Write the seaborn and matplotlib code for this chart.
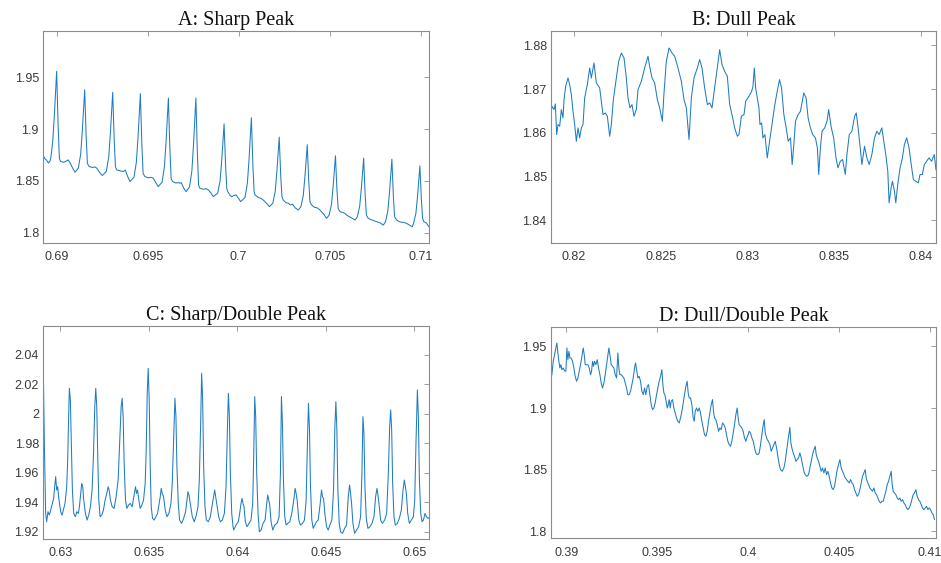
import matplotlib
matplotlib.use("Agg")
import matplotlib.pyplot as plt
import seaborn as sns
import pandas as pd

# ---------------------------------------------------------------------------
# Recorded signal segments: (time, value) samples for each of the four traces
# ---------------------------------------------------------------------------
sharp_peak = [
    (0.68925, 1.8752), (0.68935, 1.8715), (0.68945, 1.8700), (0.68955, 1.8672), (0.68963, 1.8690),
    (0.68968, 1.8725), (0.68978, 1.8873), (0.68987, 1.9119), (0.68995, 1.9400), (0.69000, 1.9558),
    (0.69004, 1.9297), (0.69008, 1.9035), (0.69015, 1.8717), (0.69022, 1.8687), (0.69040, 1.8680),
    (0.69055, 1.8695), (0.69064, 1.8703), (0.69075, 1.8670), (0.69089, 1.8620), (0.69101, 1.8584),
    (0.69119, 1.8624), (0.69132, 1.8759), (0.69141, 1.8982), (0.69149, 1.9237), (0.69154, 1.9380),
    (0.69158, 1.9158), (0.69162, 1.8935), (0.69169, 1.8669), (0.69179, 1.8639), (0.69197, 1.8630),
    (0.69212, 1.8635), (0.69220, 1.8623), (0.69237, 1.8580), (0.69251, 1.8552),
    (0.69273, 1.8592), (0.69286, 1.8729), (0.69295, 1.8954), (0.69303, 1.9210), (0.69308, 1.9355),
    (0.69312, 1.9130), (0.69316, 1.8906), (0.69323, 1.8636), (0.69330, 1.8606), (0.69348, 1.8598),
    (0.69366, 1.8590), (0.69377, 1.8606), (0.69391, 1.8540), (0.69403, 1.8494),
    (0.69425, 1.8536), (0.69438, 1.8681), (0.69447, 1.8918), (0.69455, 1.9189), (0.69460, 1.9342),
    (0.69464, 1.9102), (0.69468, 1.8862), (0.69475, 1.8572), (0.69485, 1.8542), (0.69504, 1.8530),
    (0.69519, 1.8535), (0.69531, 1.8526), (0.69546, 1.8480), (0.69558, 1.8445),
    (0.69579, 1.8488), (0.69592, 1.8633), (0.69601, 1.8873), (0.69609, 1.9146), (0.69614, 1.9300),
    (0.69618, 1.9058), (0.69622, 1.8816), (0.69629, 1.8524), (0.69637, 1.8494), (0.69655, 1.8480),
    (0.69670, 1.8484), (0.69677, 1.8477), (0.69685, 1.8484), (0.69698, 1.8430), (0.69711, 1.8397),
    (0.69730, 1.8442), (0.69743, 1.8596), (0.69752, 1.8849), (0.69760, 1.9137), (0.69765, 1.9300),
    (0.69769, 1.9039), (0.69773, 1.8777), (0.69780, 1.8459), (0.69787, 1.8429), (0.69807, 1.8420),
    (0.69822, 1.8425), (0.69834, 1.8413), (0.69849, 1.8380), (0.69861, 1.8348),
    (0.69885, 1.8383), (0.69898, 1.8502), (0.69907, 1.8699), (0.69915, 1.8924), (0.69920, 1.9050),
    (0.69924, 1.8854), (0.69928, 1.8658), (0.69935, 1.8427), (0.69940, 1.8397), (0.69953, 1.8360),
    (0.69962, 1.8348), (0.69973, 1.8360), (0.69986, 1.8365), (0.70000, 1.8330), (0.70011, 1.8300),
    (0.70035, 1.8340), (0.70048, 1.8478), (0.70057, 1.8705), (0.70065, 1.8964), (0.70070, 1.9110),
    (0.70074, 1.8887), (0.70078, 1.8663), (0.70085, 1.8395), (0.70090, 1.8365), (0.70109, 1.8340),
    (0.70124, 1.8330), (0.70135, 1.8316), (0.70155, 1.8280), (0.70169, 1.8252),
    (0.70188, 1.8286), (0.70201, 1.8400), (0.70210, 1.8588), (0.70218, 1.8802), (0.70223, 1.8923),
    (0.70227, 1.8741), (0.70231, 1.8559), (0.70238, 1.8346), (0.70245, 1.8316), (0.70260, 1.8290),
    (0.70273, 1.8285), (0.70283, 1.8268), (0.70296, 1.8275), (0.70311, 1.8240), (0.70328, 1.8219),
    (0.70342, 1.8251), (0.70355, 1.8358), (0.70364, 1.8535), (0.70372, 1.8736), (0.70377, 1.8850),
    (0.70381, 1.8675), (0.70385, 1.8501), (0.70392, 1.8298), (0.70401, 1.8268), (0.70417, 1.8245),
    (0.70432, 1.8240), (0.70447, 1.8219), (0.70467, 1.8180), (0.70483, 1.8139),
    (0.70497, 1.8169), (0.70510, 1.8272), (0.70519, 1.8441), (0.70527, 1.8633), (0.70532, 1.8742),
    (0.70536, 1.8580), (0.70540, 1.8419), (0.70547, 1.8233), (0.70557, 1.8203), (0.70573, 1.8195),
    (0.70585, 1.8185), (0.70593, 1.8171), (0.70613, 1.8150), (0.70640, 1.8123),
    (0.70652, 1.8153), (0.70665, 1.8254), (0.70674, 1.8422), (0.70682, 1.8613), (0.70687, 1.8720),
    (0.70691, 1.8546), (0.70695, 1.8371), (0.70702, 1.8169), (0.70712, 1.8139), (0.70729, 1.8125),
    (0.70745, 1.8115), (0.70759, 1.8106), (0.70777, 1.8095), (0.70795, 1.8074),
    (0.70807, 1.8106), (0.70820, 1.8214), (0.70829, 1.8392), (0.70837, 1.8596), (0.70842, 1.8710),
    (0.70846, 1.8534), (0.70850, 1.8358), (0.70857, 1.8153), (0.70868, 1.8123), (0.70885, 1.8105),
    (0.70906, 1.8100), (0.70923, 1.8090), (0.70938, 1.8075), (0.70954, 1.8058),
    (0.70961, 1.8088), (0.70974, 1.8187), (0.70983, 1.8352), (0.70991, 1.8539), (0.70996, 1.8645),
    (0.71000, 1.8483), (0.71004, 1.8322), (0.71011, 1.8136), (0.71018, 1.8106), (0.71031, 1.8095),
    (0.71045, 1.8058),
]

dull_peak = [
    (0.818654, 1.86416), (0.818731, 1.86607), (0.818846, 1.86530), (0.818923, 1.86660),
    (0.819000, 1.85959), (0.819077, 1.86188), (0.819173, 1.86150), (0.819269, 1.86530),
    (0.819365, 1.86340), (0.819423, 1.86759), (0.819519, 1.87063), (0.819654, 1.87254),
    (0.819750, 1.87102), (0.819846, 1.86873), (0.819942, 1.86492), (0.820038, 1.86188),
    (0.820135, 1.85807), (0.820231, 1.86112), (0.820327, 1.85883), (0.820423, 1.86112),
    (0.820519, 1.86188), (0.820615, 1.86797), (0.820769, 1.87102), (0.820904, 1.87482),
    (0.821000, 1.87254), (0.821154, 1.87596), (0.821288, 1.87140), (0.821481, 1.87025),
    (0.821673, 1.86416), (0.821808, 1.86454), (0.821923, 1.86378), (0.822058, 1.85921),
    (0.822154, 1.86188), (0.822269, 1.86759), (0.822442, 1.87254), (0.822577, 1.87635),
    (0.822731, 1.87825), (0.822885, 1.87711), (0.823019, 1.87254), (0.823115, 1.86797),
    (0.823231, 1.86569), (0.823346, 1.86645), (0.823462, 1.86378), (0.823596, 1.86530),
    (0.823692, 1.86987), (0.823885, 1.87178), (0.824077, 1.87482), (0.824269, 1.87749),
    (0.824365, 1.87520), (0.824500, 1.87254), (0.824654, 1.87140), (0.824808, 1.86759),
    (0.824942, 1.86569), (0.825096, 1.86264), (0.825192, 1.86911), (0.825327, 1.87635),
    (0.825481, 1.87939), (0.825654, 1.87825), (0.825808, 1.87749), (0.826000, 1.87482),
    (0.826192, 1.87178), (0.826346, 1.86759), (0.826481, 1.86569), (0.826635, 1.85845),
    (0.826769, 1.86797), (0.826923, 1.87254), (0.827115, 1.87482), (0.827250, 1.87673),
    (0.827385, 1.87482), (0.827538, 1.87025), (0.827692, 1.86645), (0.827827, 1.86683),
    (0.827962, 1.86569), (0.828115, 1.87025), (0.828269, 1.87482), (0.828404, 1.87901),
    (0.828538, 1.87558), (0.828692, 1.87406), (0.828846, 1.87292), (0.828981, 1.86645),
    (0.829115, 1.86416), (0.829269, 1.86112), (0.829423, 1.85921), (0.829519, 1.85959),
    (0.829654, 1.86378), (0.829808, 1.86416), (0.829904, 1.86721), (0.830096, 1.86835),
    (0.830249, 1.86949), (0.830326, 1.87063), (0.830402, 1.87482), (0.830479, 1.87025),
    (0.830575, 1.86797), (0.830670, 1.86569), (0.830728, 1.86188), (0.830824, 1.86226),
    (0.830900, 1.85883), (0.831015, 1.85959), (0.831149, 1.85426), (0.831284, 1.85807),
    (0.831437, 1.86226), (0.831571, 1.86607), (0.831724, 1.86949), (0.831858, 1.87216),
    (0.831973, 1.87025), (0.832107, 1.86416), (0.832241, 1.86112), (0.832356, 1.85807),
    (0.832490, 1.85883), (0.832586, 1.85274), (0.832682, 1.85731), (0.832778, 1.86264),
    (0.832931, 1.86416), (0.833065, 1.86492), (0.833257, 1.86911), (0.833391, 1.86797),
    (0.833506, 1.86340), (0.833640, 1.86112), (0.833774, 1.85959), (0.833927, 1.85883),
    (0.834042, 1.85655), (0.834119, 1.85046), (0.834215, 1.85655), (0.834310, 1.86035),
    (0.834464, 1.86112), (0.834598, 1.86264), (0.834693, 1.86530), (0.834847, 1.86112),
    (0.834981, 1.85883), (0.835115, 1.85426), (0.835230, 1.85198), (0.835364, 1.85350),
    (0.835498, 1.85388), (0.835651, 1.85046), (0.835747, 1.85502), (0.835881, 1.85959),
    (0.836034, 1.86035), (0.836188, 1.86378), (0.836284, 1.86454), (0.836379, 1.86150),
    (0.836513, 1.85655), (0.836609, 1.85274), (0.836762, 1.85693), (0.836897, 1.85426),
    (0.837031, 1.85274), (0.837184, 1.85502), (0.837337, 1.85883), (0.837471, 1.86035),
    (0.837605, 1.85959), (0.837759, 1.86112), (0.837874, 1.85807), (0.837989, 1.85502),
    (0.838103, 1.85122), (0.838180, 1.84398), (0.838295, 1.84741), (0.838372, 1.84893),
    (0.838487, 1.84665), (0.838563, 1.84398), (0.838678, 1.84817), (0.838812, 1.85198),
    (0.838946, 1.85426), (0.839061, 1.85731), (0.839195, 1.85883), (0.839330, 1.85655),
    (0.839483, 1.85198), (0.839579, 1.84931), (0.839713, 1.84893), (0.839866, 1.84855),
    (0.839962, 1.85046), (0.840096, 1.85046), (0.840211, 1.85274), (0.840345, 1.85350),
    (0.840479, 1.85426), (0.840632, 1.85350), (0.840785, 1.85502), (0.840881, 1.85160),
    (0.840958, 1.85122),
]

sharp_double_peak = [
    (0.629037, 2.03094), (0.629094, 1.98224), (0.629169, 1.93242), (0.629226, 1.92675),
    (0.629302, 1.93355), (0.629377, 1.93129), (0.629453, 1.93468), (0.629547, 1.93921),
    (0.629622, 1.94261), (0.629679, 1.95054), (0.629736, 1.95734), (0.629792, 1.94827),
    (0.629849, 1.95054), (0.629924, 1.94148), (0.630019, 1.93355), (0.630094, 1.93129),
    (0.630170, 1.93468), (0.630264, 1.93921), (0.630359, 1.95054), (0.630415, 1.96866),
    (0.630472, 2.00037), (0.630510, 2.01735), (0.630566, 2.00943), (0.630623, 1.97772),
    (0.630680, 1.94827), (0.630755, 1.93242), (0.630849, 1.93015), (0.630925, 1.93355),
    (0.631019, 1.93242), (0.631076, 1.93695), (0.631151, 1.94601), (0.631208, 1.95281),
    (0.631265, 1.95054), (0.631321, 1.94148), (0.631416, 1.93242), (0.631510, 1.92789),
    (0.631604, 1.93129), (0.631699, 1.93695), (0.631793, 1.94827), (0.631869, 1.97092),
    (0.631944, 2.00490), (0.632001, 2.01735), (0.632057, 2.00490), (0.632114, 1.97092),
    (0.632171, 1.94148), (0.632246, 1.93015), (0.632341, 1.93129), (0.632435, 1.93468),
    (0.632529, 1.94148), (0.632624, 1.94601), (0.632699, 1.95054), (0.632756, 1.94827),
    (0.632831, 1.94148), (0.632926, 1.93695), (0.633039, 1.93582), (0.633152, 1.94374),
    (0.633265, 1.95507), (0.633360, 1.98224), (0.633435, 2.00490), (0.633492, 2.01056),
    (0.633549, 1.99811), (0.633605, 1.96639), (0.633681, 1.94148), (0.633756, 1.93582),
    (0.633851, 1.93808), (0.633945, 1.93921), (0.634058, 1.93695), (0.634171, 1.94488),
    (0.634247, 1.95054), (0.634304, 1.94601), (0.634360, 1.94827), (0.634436, 1.94148),
    (0.634511, 1.93582), (0.634606, 1.93808), (0.634700, 1.94148), (0.634794, 1.95281),
    (0.634851, 1.97545), (0.634908, 2.01396), (0.634964, 2.03094), (0.635021, 2.00943),
    (0.635077, 1.96413), (0.635134, 1.93695), (0.635210, 1.92902), (0.635304, 1.92789),
    (0.635398, 1.93015), (0.635493, 1.93242), (0.635587, 1.93921), (0.635644, 1.94374),
    (0.635700, 1.94941), (0.635757, 1.94601), (0.635832, 1.94374), (0.635927, 1.93468),
    (0.636021, 1.93015), (0.636134, 1.93242), (0.636248, 1.93921), (0.636323, 1.95281),
    (0.636399, 1.98224), (0.636474, 2.01056), (0.636531, 1.99811), (0.636587, 1.96413),
    (0.636663, 1.93921), (0.636738, 1.92789), (0.636852, 1.92562), (0.636965, 1.92902),
    (0.637078, 1.93355), (0.637154, 1.94148), (0.637210, 1.94714), (0.637267, 1.94488),
    (0.637342, 1.93921), (0.637456, 1.93015), (0.637569, 1.92675), (0.637682, 1.93129),
    (0.637777, 1.93695), (0.637852, 1.95507), (0.637928, 1.99357), (0.637984, 2.02755),
    (0.638041, 2.00943), (0.638097, 1.96413), (0.638173, 1.93695), (0.638248, 1.92789),
    (0.638362, 1.92675), (0.638475, 1.93015), (0.638569, 1.93695), (0.638664, 1.94374),
    (0.638720, 1.94827), (0.638777, 1.94374), (0.638852, 1.93808), (0.638947, 1.93015),
    (0.639041, 1.92675), (0.639154, 1.92789), (0.639268, 1.93242), (0.639362, 1.95054),
    (0.639438, 1.98904), (0.639494, 2.01396), (0.639551, 1.99811), (0.639607, 1.95960),
    (0.639683, 1.93242), (0.639758, 1.92336), (0.639792, 1.92109), (0.639925, 1.92449),
    (0.640057, 1.92675), (0.640132, 1.93242), (0.640208, 1.93921), (0.640264, 1.94261),
    (0.640321, 1.93921), (0.640378, 1.93695), (0.640453, 1.92675), (0.640547, 1.92336),
    (0.640661, 1.92562), (0.640774, 1.92789), (0.640868, 1.93921), (0.640925, 1.97092),
    (0.640982, 2.01169), (0.641038, 1.99811), (0.641095, 1.95960), (0.641170, 1.93242),
    (0.641246, 1.91996), (0.641340, 1.92109), (0.641453, 1.92562), (0.641567, 1.92789),
    (0.641642, 1.93695), (0.641718, 1.94488), (0.641774, 1.94148), (0.641831, 1.93808),
    (0.641906, 1.92675), (0.642001, 1.92109), (0.642114, 1.92449), (0.642246, 1.92562),
    (0.642359, 1.93015), (0.642435, 1.95960), (0.642492, 2.01169), (0.642548, 1.99357),
    (0.642605, 1.95507), (0.642680, 1.93015), (0.642756, 1.92449), (0.642850, 1.92562),
    (0.642963, 1.92675), (0.643077, 1.93242), (0.643190, 1.94148), (0.643265, 1.94941),
    (0.643322, 1.94601), (0.643379, 1.94148), (0.643473, 1.92789), (0.643567, 1.92449),
    (0.643681, 1.92562), (0.643794, 1.92789), (0.643888, 1.94148), (0.643964, 1.98224),
    (0.644020, 2.00716), (0.644077, 1.98904), (0.644134, 1.95054), (0.644209, 1.92789),
    (0.644285, 1.92222), (0.644379, 1.92449), (0.644473, 1.92675), (0.644568, 1.92789),
    (0.644662, 1.93695), (0.644757, 1.94827), (0.644813, 1.94374), (0.644870, 1.94261),
    (0.644945, 1.93242), (0.645040, 1.92336), (0.645134, 1.92109), (0.645228, 1.92449),
    (0.645342, 1.92789), (0.645436, 1.94827), (0.645512, 1.99131), (0.645568, 2.00830),
    (0.645625, 1.98904), (0.645681, 1.94827), (0.645757, 1.92562), (0.645832, 1.91996),
    (0.645946, 1.91883), (0.646059, 1.92222), (0.646172, 1.92449), (0.646267, 1.94374),
    (0.646342, 1.95167), (0.646399, 1.94601), (0.646455, 1.93921), (0.646531, 1.92562),
    (0.646625, 1.91883), (0.646738, 1.92109), (0.646852, 1.92336), (0.646965, 1.93015),
    (0.647040, 1.95960), (0.647097, 1.99811), (0.647154, 1.98678), (0.647210, 1.95054),
    (0.647286, 1.92902), (0.647380, 1.92222), (0.647494, 1.92336), (0.647607, 1.92562),
    (0.647720, 1.93015), (0.647814, 1.94374), (0.647890, 1.94941), (0.647946, 1.94488),
    (0.648003, 1.93921), (0.648097, 1.92789), (0.648192, 1.92562), (0.648324, 1.92789),
    (0.648437, 1.93242), (0.648532, 1.95960), (0.648607, 1.99131), (0.648664, 2.00264),
    (0.648721, 1.98904), (0.648777, 1.95281), (0.648852, 1.93015), (0.648928, 1.92449),
    (0.649041, 1.92562), (0.649154, 1.92902), (0.649268, 1.93468), (0.649362, 1.94827),
    (0.649438, 1.95507), (0.649494, 1.95054), (0.649551, 1.94601), (0.649626, 1.93242),
    (0.649721, 1.92562), (0.649834, 1.92789), (0.649947, 1.93015), (0.650023, 1.94148),
    (0.650098, 1.98224), (0.650174, 2.01622), (0.650230, 1.99811), (0.650287, 1.95507),
    (0.650362, 1.93242), (0.650438, 1.92675), (0.650513, 1.92789), (0.650608, 1.93242),
    (0.650683, 1.93015), (0.650778, 1.92902), (0.650872, 1.93015),
]

dull_double_peak = [
    (0.389156, 1.92434), (0.389211, 1.92704), (0.389285, 1.93784), (0.389358, 1.94325),
    (0.389431, 1.94865), (0.389486, 1.95270), (0.389541, 1.94460), (0.389596, 1.93784),
    (0.389651, 1.93244), (0.389706, 1.93514), (0.389762, 1.93109), (0.389835, 1.93244),
    (0.389908, 1.93028), (0.389982, 1.92974), (0.390037, 1.94865), (0.390092, 1.93920),
    (0.390147, 1.94595), (0.390202, 1.94055), (0.390275, 1.94055), (0.390349, 1.93784),
    (0.390422, 1.93244), (0.390495, 1.92569), (0.390569, 1.92164), (0.390642, 1.92434),
    (0.390715, 1.92974), (0.390789, 1.93514), (0.390862, 1.94190), (0.390936, 1.94865),
    (0.390991, 1.94325), (0.391046, 1.93514), (0.391119, 1.93514), (0.391192, 1.93514),
    (0.391266, 1.93244), (0.391339, 1.92704), (0.391394, 1.92974), (0.391449, 1.93784),
    (0.391504, 1.93379), (0.391559, 1.93784), (0.391633, 1.93514), (0.391706, 1.93920),
    (0.391779, 1.93244), (0.391853, 1.92704), (0.391926, 1.92029), (0.392000, 1.91624),
    (0.392073, 1.92029), (0.392146, 1.92704), (0.392220, 1.93514), (0.392293, 1.94325),
    (0.392348, 1.94865), (0.392403, 1.94325), (0.392477, 1.93514), (0.392550, 1.93379),
    (0.392623, 1.93244), (0.392697, 1.92704), (0.392770, 1.92434), (0.392843, 1.94460),
    (0.392898, 1.93244), (0.392954, 1.92704), (0.393027, 1.92704), (0.393100, 1.92569),
    (0.393174, 1.92434), (0.393247, 1.92029), (0.393320, 1.91624), (0.393394, 1.91083),
    (0.393467, 1.91083), (0.393541, 1.91353), (0.393614, 1.91894), (0.393687, 1.92434),
    (0.393761, 1.93244), (0.393816, 1.93649), (0.393871, 1.93109), (0.393944, 1.92434),
    (0.394018, 1.92569), (0.394091, 1.92164), (0.394164, 1.91353), (0.394238, 1.91083),
    (0.394311, 1.91624), (0.394384, 1.91083), (0.394458, 1.91759), (0.394531, 1.91894),
    (0.394605, 1.91083), (0.394678, 1.90273), (0.394751, 1.89868), (0.394825, 1.90003),
    (0.394898, 1.90408), (0.394971, 1.91083), (0.395045, 1.91624), (0.395118, 1.92164),
    (0.395192, 1.92569), (0.395265, 1.93109), (0.395320, 1.91894), (0.395375, 1.91218),
    (0.395430, 1.91083), (0.395485, 1.90678), (0.395559, 1.90003), (0.395614, 1.90273),
    (0.395669, 1.90678), (0.395724, 1.90003), (0.395779, 1.90543), (0.395852, 1.90678),
    (0.395925, 1.90003), (0.395999, 1.89598), (0.396072, 1.89192), (0.396146, 1.88922),
    (0.396219, 1.88787), (0.396292, 1.89192), (0.396366, 1.89733), (0.396439, 1.90408),
    (0.396512, 1.91083), (0.396586, 1.91759), (0.396659, 1.92164), (0.396714, 1.91218),
    (0.396769, 1.90813), (0.396843, 1.90813), (0.396916, 1.90273), (0.396989, 1.89192),
    (0.397044, 1.88922), (0.397100, 1.89733), (0.397173, 1.90003), (0.397246, 1.89733),
    (0.397320, 1.90003), (0.397393, 1.89598), (0.397466, 1.88922), (0.397540, 1.88382),
    (0.397613, 1.87842), (0.397687, 1.87707), (0.397760, 1.88112), (0.397833, 1.88922),
    (0.397907, 1.89598), (0.397980, 1.90273), (0.398053, 1.90678), (0.398108, 1.89733),
    (0.398164, 1.89192), (0.398237, 1.89057), (0.398310, 1.88652), (0.398384, 1.88112),
    (0.398457, 1.88382), (0.398530, 1.88247), (0.398604, 1.88787), (0.398677, 1.88652),
    (0.398751, 1.88382), (0.398824, 1.87842), (0.398897, 1.87302), (0.398971, 1.87031),
    (0.399044, 1.86896), (0.399117, 1.87302), (0.399191, 1.87977), (0.399264, 1.88652),
    (0.399338, 1.89463), (0.399411, 1.90003), (0.399466, 1.89192), (0.399521, 1.88652),
    (0.399594, 1.88517), (0.399668, 1.88382), (0.399741, 1.88112), (0.399815, 1.87572),
    (0.399888, 1.87302), (0.399943, 1.87572), (0.400073, 1.88112), (0.400147, 1.87977),
    (0.400220, 1.87572), (0.400294, 1.87302), (0.400367, 1.86761), (0.400459, 1.86275),
    (0.400550, 1.86221), (0.400624, 1.86356), (0.400697, 1.87031), (0.400770, 1.87842),
    (0.400844, 1.88652), (0.400899, 1.89057), (0.400954, 1.87977), (0.401009, 1.87707),
    (0.401064, 1.87437), (0.401137, 1.87302), (0.401211, 1.87031), (0.401284, 1.86491),
    (0.401358, 1.86761), (0.401431, 1.87031), (0.401504, 1.87302), (0.401578, 1.86761),
    (0.401651, 1.86086), (0.401724, 1.85411), (0.401798, 1.85006), (0.401890, 1.84870),
    (0.401981, 1.85141), (0.402055, 1.85681), (0.402128, 1.86491), (0.402201, 1.87302),
    (0.402256, 1.87842), (0.402311, 1.88436), (0.402367, 1.87167), (0.402422, 1.86761),
    (0.402495, 1.86356), (0.402568, 1.86086), (0.402642, 1.85681), (0.402715, 1.85816),
    (0.402788, 1.85951), (0.402862, 1.86356), (0.402935, 1.85951), (0.403009, 1.85411),
    (0.403082, 1.84870), (0.403155, 1.84600), (0.403247, 1.84465), (0.403339, 1.84600),
    (0.403412, 1.85141), (0.403486, 1.85681), (0.403559, 1.86221), (0.403632, 1.86626),
    (0.403706, 1.86896), (0.403761, 1.86221), (0.403816, 1.85951), (0.403889, 1.85681),
    (0.403963, 1.85276), (0.404036, 1.84870), (0.404109, 1.85141), (0.404183, 1.84735),
    (0.404256, 1.85141), (0.404329, 1.84600), (0.404403, 1.84870), (0.404476, 1.84465),
    (0.404550, 1.83925), (0.404623, 1.83520), (0.404696, 1.83385), (0.404770, 1.83655),
    (0.404843, 1.84330), (0.404916, 1.85006), (0.404990, 1.85411), (0.405063, 1.85816),
    (0.405137, 1.85141), (0.405210, 1.84870), (0.405283, 1.84600), (0.405357, 1.84330),
    (0.405430, 1.84195), (0.405504, 1.84060), (0.405577, 1.83925), (0.405650, 1.84195),
    (0.405724, 1.83925), (0.405797, 1.83790), (0.405870, 1.83385), (0.405944, 1.83115),
    (0.406017, 1.82845), (0.406091, 1.82980), (0.406164, 1.83385), (0.406237, 1.83925),
    (0.406311, 1.84465), (0.406384, 1.84735), (0.406457, 1.85006), (0.406512, 1.84330),
    (0.406568, 1.84060), (0.406641, 1.83790), (0.406714, 1.83520), (0.406788, 1.83385),
    (0.406861, 1.83250), (0.406934, 1.83520), (0.407008, 1.83115), (0.407081, 1.82980),
    (0.407155, 1.82709), (0.407228, 1.82439), (0.407301, 1.82304), (0.407375, 1.82439),
    (0.407448, 1.82439), (0.407521, 1.82845), (0.407595, 1.83250), (0.407668, 1.83790),
    (0.407742, 1.84060), (0.407815, 1.84465), (0.407888, 1.84870), (0.407943, 1.83790),
    (0.407998, 1.83250), (0.408072, 1.83115), (0.408145, 1.82980), (0.408219, 1.82709),
    (0.408292, 1.82574), (0.408365, 1.82709), (0.408439, 1.82439), (0.408512, 1.82574),
    (0.408585, 1.82304), (0.408659, 1.82169), (0.408732, 1.81899), (0.408806, 1.81764),
    (0.408879, 1.81899), (0.408952, 1.82169), (0.409026, 1.82574), (0.409099, 1.82980),
    (0.409172, 1.83115), (0.409246, 1.83385), (0.409319, 1.82845), (0.409393, 1.82574),
    (0.409466, 1.82439), (0.409539, 1.82169), (0.409613, 1.81899), (0.409686, 1.81764),
    (0.409759, 1.81899), (0.409833, 1.82034), (0.409906, 1.81764), (0.409980, 1.81899),
    (0.410053, 1.81764), (0.410126, 1.81494), (0.410200, 1.81359), (0.410273, 1.80954),
]

# Panel titles and tick values / labels
titles = ["A: Sharp Peak", "B: Dull Peak", "C: Sharp/Double Peak", "D: Dull/Double Peak"]

a_xticks = [0.69, 0.695, 0.70, 0.705, 0.71]
a_xlabels = ["0.69", "0.695", "0.7", "0.705", "0.71"]
a_yticks = [1.80, 1.85, 1.90, 1.95]
a_ylabels = ["1.8", "1.85", "1.9", "1.95"]

b_xticks = [0.82, 0.825, 0.83, 0.835, 0.84]
b_xlabels = ["0.82", "0.825", "0.83", "0.835", "0.84"]
b_yticks = [1.84, 1.85, 1.86, 1.87, 1.88]
b_ylabels = ["1.84", "1.85", "1.86", "1.87", "1.88"]

c_xticks = [0.63, 0.635, 0.64, 0.645, 0.65]
c_xlabels = ["0.63", "0.635", "0.64", "0.645", "0.65"]
c_yticks = [1.92, 1.94, 1.96, 1.98, 2.00, 2.02, 2.04]
c_ylabels = ["1.92", "1.94", "1.96", "1.98", "2", "2.02", "2.04"]

d_xticks = [0.39, 0.395, 0.40, 0.405, 0.41]
d_xlabels = ["0.39", "0.395", "0.4", "0.405", "0.41"]
d_yticks = [1.80, 1.85, 1.90, 1.95]
d_ylabels = ["1.8", "1.85", "1.9", "1.95"]

# ---------------------------------------------------------------------------
sns.set_theme(style="white")
plt.rcParams["font.family"] = ["Liberation Sans", "DejaVu Sans"]

LINE_COLOR = "#1f7cc2"
FRAME_COLOR = "#8c8c8c"
TEXT_COLOR = "#3a3a3a"

panels = [
    dict(data=sharp_peak, title=titles[0], rect=[0.0457, 0.5684, 0.4102, 0.3765],
         xlim=(0.68925, 0.71046), ylim=(1.7901, 1.9947),
         xt=a_xticks, xl=a_xlabels, yt=a_yticks, yl=a_ylabels),
    dict(data=dull_peak, title=titles[1], rect=[0.5855, 0.5684, 0.4091, 0.3765],
         xlim=(0.81867, 0.84088), ylim=(1.8348, 1.88327),
         xt=b_xticks, xl=b_xlabels, yt=b_yticks, yl=b_ylabels),
    dict(data=sharp_double_peak, title=titles[2], rect=[0.0457, 0.0432, 0.4102, 0.3778],
         xlim=(0.62902, 0.65083), ylim=(1.91524, 2.0597),
         xt=c_xticks, xl=c_xlabels, yt=c_yticks, yl=c_ylabels),
    dict(data=dull_double_peak, title=titles[3], rect=[0.5855, 0.0439, 0.4091, 0.3758],
         xlim=(0.38916, 0.41035), ylim=(1.7944, 1.9659),
         xt=d_xticks, xl=d_xlabels, yt=d_yticks, yl=d_ylabels),
]

fig = plt.figure(figsize=(9.41, 5.63), dpi=100)
fig.patch.set_facecolor("white")

for p in panels:
    ax = fig.add_axes(p["rect"])
    df = pd.DataFrame(p["data"], columns=["time", "value"])
    sns.lineplot(data=df, x="time", y="value", ax=ax, color=LINE_COLOR,
                 linewidth=0.75, estimator=None, sort=False)
    ax.set_xlim(*p["xlim"])
    ax.set_ylim(*p["ylim"])
    ax.set_xticks(p["xt"])
    ax.set_xticklabels(p["xl"])
    ax.set_yticks(p["yt"])
    ax.set_yticklabels(p["yl"])
    ax.set_xlabel("")
    ax.set_ylabel("")
    ax.tick_params(axis="both", which="major", direction="in", length=3.5, width=0.6,
                   top=True, right=True, color=FRAME_COLOR, labelcolor=TEXT_COLOR,
                   labelsize=9)
    ax.tick_params(axis="x", pad=6)
    ax.tick_params(axis="y", pad=3)
    for s in ax.spines.values():
        s.set_visible(True)
        s.set_color(FRAME_COLOR)
        s.set_linewidth(0.8)
    ax.set_facecolor("white")
    ax.set_title(p["title"], fontfamily="Liberation Serif", fontsize=14.5,
                 color="#111111", pad=4)

fig.savefig("out.png", dpi=100, facecolor="white")
